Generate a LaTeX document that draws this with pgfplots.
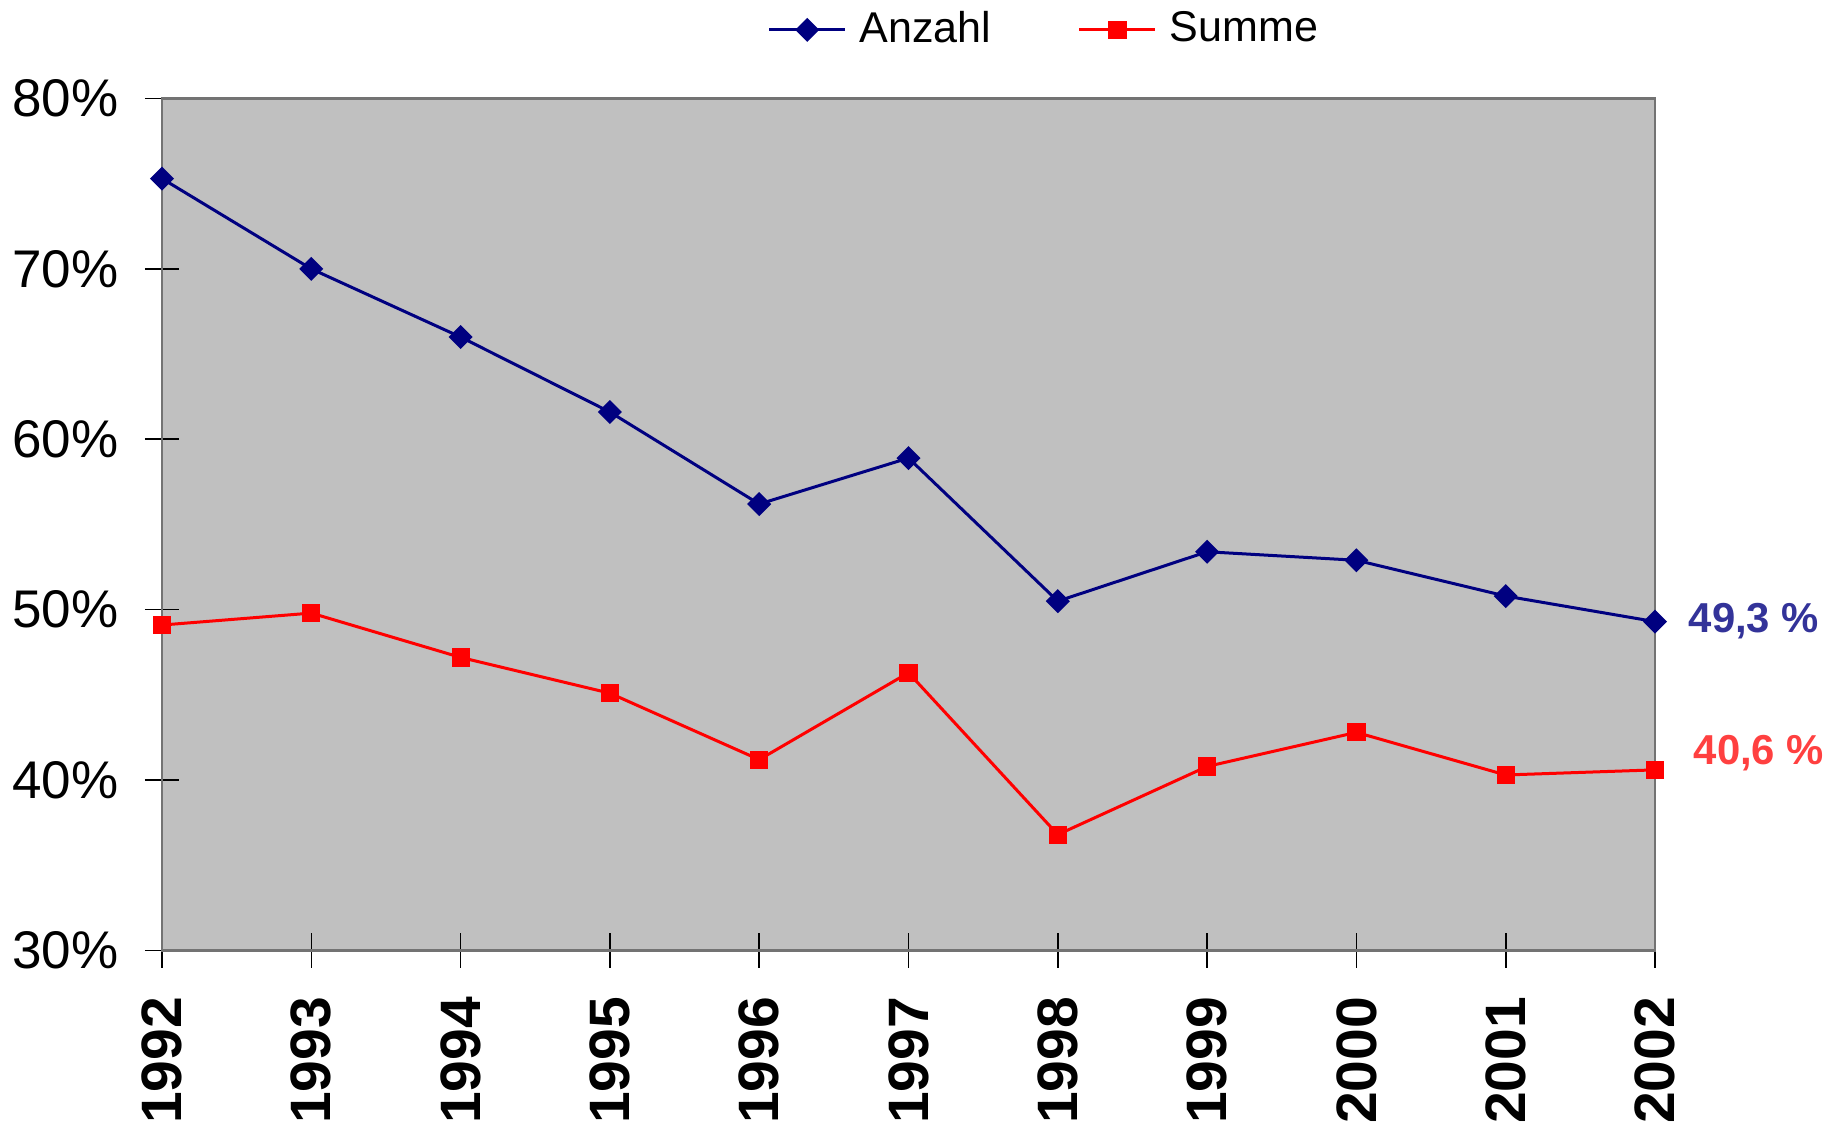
\documentclass[border=0pt]{standalone}
\usepackage{pgfplots}
\pgfplotsset{compat=1.18}
\usepackage{fontspec}
\setmainfont{Liberation Sans}
\definecolor{anz}{RGB}{0,0,128}
\definecolor{sum}{RGB}{255,0,0}
\definecolor{anzlab}{RGB}{51,51,153}
\definecolor{sumlab}{RGB}{255,64,64}
\definecolor{bg}{RGB}{192,192,192}
\begin{document}
\begin{tikzpicture}
\useasboundingbox (0,0) rectangle (460bp,282.5bp);
\begin{axis}[
  at={(40.5bp,44.875bp)}, anchor=south west,
  scale only axis, width=373.25bp, height=213bp,
  xmin=0, xmax=10, ymin=30, ymax=80,
  axis background/.style={fill=bg},
  axis line style={draw=black!55, line width=0.6bp},
  xtick={0,...,10},
  xticklabels={1992,1993,1994,1995,1996,1997,1998,1999,2000,2001,2002},
  ytick={30,40,50,60,70,80},
  yticklabels={30\%,40\%,50\%,60\%,70\%,80\%},
  tick align=center,
  major tick length=8.5bp,
  tick style={black, line width=0.4bp},
  xtick pos=bottom, ytick pos=left,
  /pgf/number format/assume math mode=true,
  x tick label style={rotate=90, anchor=east, inner sep=0pt, xshift=-7.2bp,
     font=\fontsize{14.3}{14.3}\selectfont\bfseries},
  y tick label style={anchor=east, inner sep=0pt, xshift=-6.5bp,
     font=\fontsize{13.3}{13.3}\selectfont},
  legend columns=2,
  legend style={draw=none, fill=none, at={(0.4052,1.0805)}, anchor=west,
     inner sep=0pt, font=\fontsize{10.8}{10.8}\selectfont,
     nodes={inner xsep=3.2bp, inner ysep=1bp},
     /tikz/every even column/.append style={column sep=18.5bp}},
  legend image code/.code={\draw[#1, mark repeat=2, mark phase=2] plot coordinates {(0bp,0bp)(9.5bp,0bp)(19bp,0bp)};},
  clip=false,
]
\addplot[anz, line width=0.75bp, mark=square*, mark size=1.75bp, mark options={solid, rotate=45}]
  coordinates {(0,75.3)(1,70.0)(2,66.0)(3,61.6)(4,56.2)(5,58.9)(6,50.5)(7,53.4)(8,52.9)(9,50.8)(10,49.3)};
\addlegendentry{Anzahl}
\addplot[sum, line width=0.75bp, mark=square*, mark size=1.9bp, mark options={solid}]
  coordinates {(0,49.1)(1,49.8)(2,47.2)(3,45.1)(4,41.2)(5,46.3)(6,36.8)(7,40.8)(8,42.8)(9,40.3)(10,40.6)};
\addlegendentry{Summe}
\node[anchor=west, inner sep=0pt, text=anzlab, font=\fontsize{10.5}{10.5}\selectfont\bfseries, xshift=8.25bp] at (axis cs:10,49.3) {49,3 \%};
\node[anchor=west, inner sep=0pt, text=sumlab, font=\fontsize{10.5}{10.5}\selectfont\bfseries, xshift=9.5bp, yshift=4.25bp] at (axis cs:10,40.6) {40,6 \%};
\end{axis}
\end{tikzpicture}
\end{document}
